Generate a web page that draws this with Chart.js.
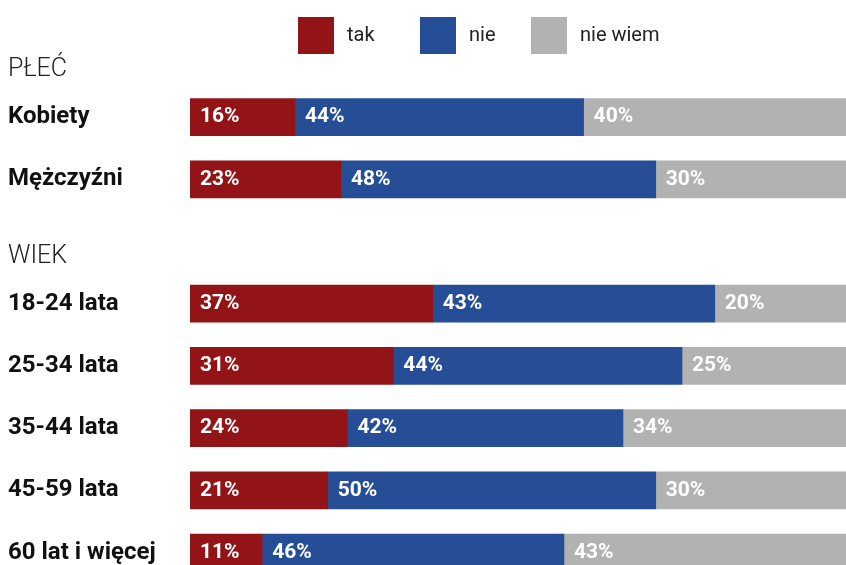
<!DOCTYPE html>
<html>
<head>
<meta charset="utf-8">
<script src="https://cdn.jsdelivr.net/npm/chart.js@4.4.0/dist/chart.umd.min.js"></script>
<style>
  html, body { margin: 0; padding: 0; background: #fff; overflow: hidden; }
  #wrap { position: relative; width: 846px; height: 598px; }
</style>
</head>
<body>
<div id="wrap"><canvas id="opinionChart"></canvas></div>
<script>
// rows of the chart, '' is the empty row between the two groups
var categories = ['Kobiety', 'Mężczyźni', '', '18-24 lata', '25-34 lata', '35-44 lata', '45-59 lata', '60 lat i więcej'];
var sections = [{ title: 'PŁEĆ', row: 0 }, { title: 'WIEK', row: 3 }];

var seriesNames = ['tak', 'nie', 'nie wiem'];
var takValues   = [16, 23, null, 37, 31, 24, 21, 11];
var nieValues   = [44, 48, null, 43, 44, 42, 50, 46];
var niewiemValues = [40, 30, null, 20, 25, 34, 30, 43];
var seriesColors = ['#921417', '#264e97', '#b2b2b2'];

var FONT = 'Roboto, "Liberation Sans", sans-serif';

// percent labels inside every segment
var valueLabels = {
  id: 'valueLabels',
  afterDatasetsDraw: function(chart) {
    var ctx = chart.ctx;
    ctx.save();
    ctx.font = 'bold 21px ' + FONT;
    ctx.fillStyle = '#ffffff';
    ctx.textAlign = 'left';
    ctx.textBaseline = 'middle';
    chart.data.datasets.forEach(function(ds, i) {
      chart.getDatasetMeta(i).data.forEach(function(bar, j) {
        var v = ds.data[j];
        if (v === null || v === undefined) return;
        ctx.fillText(v + '%', bar.base + 10, bar.y);
      });
    });
    ctx.restore();
  }
};

// group titles and legend at the top
var extras = {
  id: 'extras',
  afterDraw: function(chart) {
    var ctx = chart.ctx;
    var y = chart.scales.y;
    ctx.save();
    ctx.fillStyle = '#222';
    ctx.textAlign = 'left';
    ctx.textBaseline = 'middle';
    ctx.font = '300 25px ' + FONT;
    sections.forEach(function(s) {
      ctx.fillText(s.title, 8, y.getPixelForValue(s.row) - 47);
    });

    var legendX = [298, 420, 531];
    ctx.font = '20px ' + FONT;
    chart.data.datasets.forEach(function(ds, i) {
      ctx.fillStyle = ds.backgroundColor;
      ctx.fillRect(legendX[i], 17, 36, 37);
      ctx.fillStyle = '#222';
      ctx.fillText(ds.label, legendX[i] + 49, 36);
    });
    ctx.restore();
  }
};

var ctx = document.getElementById('opinionChart').getContext('2d');
var opinionChart = new Chart(ctx, {
  type: 'bar',
  data: {
    labels: categories,
    datasets: [
      { label: seriesNames[0], data: takValues, backgroundColor: seriesColors[0] },
      { label: seriesNames[1], data: nieValues, backgroundColor: seriesColors[1] },
      { label: seriesNames[2], data: niewiemValues, backgroundColor: seriesColors[2] }
    ]
  },
  options: {
    indexAxis: 'y',
    responsive: true,
    maintainAspectRatio: false,
    animation: false,
    barThickness: 37,
    layout: { padding: { top: 86, left: 8, right: 0, bottom: 0 } },
    plugins: {
      legend: { display: false },
      tooltip: { enabled: false }
    },
    scales: {
      x: {
        stacked: true,
        display: false,
        min: 0,
        max: 100
      },
      y: {
        stacked: true,
        grid: { display: false, drawTicks: false },
        border: { display: false },
        afterFit: function(scale) { scale.width = 182; },
        ticks: {
          crossAlign: 'far',
          padding: 0,
          color: '#111',
          font: { family: FONT, size: 24, weight: 'bold' }
        }
      }
    }
  },
  plugins: [valueLabels, extras]
});
</script>
</body>
</html>
